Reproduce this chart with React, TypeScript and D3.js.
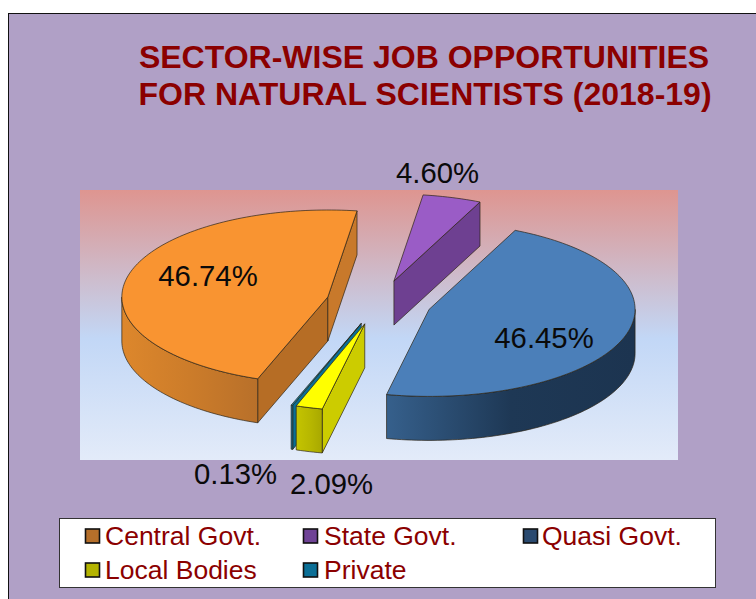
import React from "react";
import * as d3 from "d3";

const categories = ["Central Govt.", "State Govt.", "Quasi Govt.", "Local Bodies", "Private"];
const shares = [46.74, 4.6, 46.45, 2.09, 0.13];
const shareLabels = ["46.74%", "4.60%", "46.45%", "2.09%", "0.13%"];
const topColors = ["#f99431", "#9a5cc6", "#4b7fb9", "#ffff00", "#0e84ad"];
const sideColors = ["#b66d25", "#6e4091", "#1c3450", "#cccc00", "#0a6f96"];
const endColors = ["#c8792b", "#6e4091", "#1c3450", "#cccc00", "#0a6f96"];
const legendColors = ["#b56f2a", "#6f4396", "#2a4a70", "#b4b400", "#0b6f96"];
// left to right colours of the front wall
const wallStops = [
  ["#dd872c", "#cc7c2a", "#b8702a"],
  ["#6e4091", "#6e4091", "#6e4091"],
  ["#36608c", "#1e3855", "#1c3450"],
  ["#c4c400", "#b8b800", "#a8a800"],
  ["#0a6f96", "#0a6f96", "#0a6f96"],
];

// pie geometry in screen pixels
const cx = 379;
const cy = 302.4;
const rx = 206;
const ry = 87;
const depth = 44;
const explode = 0.256;
const firstAngle = (199.9 * Math.PI) / 180;

const labelPos = [
  [208, 275],
  [437.5, 172],
  [544, 337],
  [331.5, 483],
  [235.5, 473],
];
const legendPos = [
  [85.5, 536],
  [303.5, 536],
  [523.5, 536],
  [85.5, 570],
  [303.5, 570],
];
const legendText = [105, 324, 542, 105, 324];

const pie = d3
  .pie<number>()
  .sort(null)
  .startAngle(firstAngle)
  .endAngle(firstAngle + Math.PI * 2);

const xOf = (a: number) => Math.sin(a) * rx;
const yOf = (a: number) => -Math.cos(a) * ry;

type Pt = [number, number];
const line = d3.line<Pt>();

// rim points between two angles, sampled along the ellipse
function rim(ox: number, oy: number, a0: number, a1: number): Pt[] {
  const n = Math.max(2, Math.ceil(Math.abs(a1 - a0) * 40));
  return d3.range(n + 1).map((i) => {
    const a = a0 + ((a1 - a0) * i) / n;
    return [ox + xOf(a), oy + yOf(a)] as Pt;
  });
}

const drawOrder = [1, 2, 0, 4, 3];

export default function App() {
  const arcs = pie(shares);
  const stroke = "#2c2416";

  return (
    <svg
      width={756}
      height={599}
      style={{ position: "absolute", left: 0, top: 0, background: "#fff" }}
    >
      <defs>
        <linearGradient id="plotBg" x1="0" y1="0" x2="0" y2="1">
          <stop offset="0" stopColor="#de9590" />
          <stop offset="0.55" stopColor="#c2d7f6" />
          <stop offset="1" stopColor="#e3ebf9" />
        </linearGradient>
        {wallStops.map((stops, i) => (
          <linearGradient key={i} id={"wall" + i} x1="0" y1="0" x2="1" y2="0">
            <stop offset="0" stopColor={stops[0]} />
            <stop offset="0.5" stopColor={stops[1]} />
            <stop offset="1" stopColor={stops[2]} />
          </linearGradient>
        ))}
      </defs>

      <rect x={8.5} y={13.5} width={760} height={600} fill="#b0a0c6" stroke="#111" />
      <rect x={80} y={190} width={598} height={270} fill="url(#plotBg)" />

      <g fill="#8b0000" fontFamily="Liberation Sans" fontWeight="bold" fontSize={32} textAnchor="middle">
        <text x={424} y={68}>SECTOR-WISE JOB OPPORTUNITIES</text>
        <text x={425} y={105}>FOR NATURAL SCIENTISTS (2018-19)</text>
      </g>

      {drawOrder.map((i) => {
        const d = arcs[i];
        const mid = (d.startAngle + d.endAngle) / 2;
        const ox = cx + xOf(mid) * explode;
        const oy = cy + yOf(mid) * explode;
        const s: Pt = [ox + xOf(d.startAngle), oy + yOf(d.startAngle)];
        const e: Pt = [ox + xOf(d.endAngle), oy + yOf(d.endAngle)];
        const apex: Pt = [ox, oy];
        const inner: Pt = [xOf(mid), yOf(mid)];
        const down = (p: Pt): Pt => [p[0], p[1] + depth];

        // a cut face shows only if going down leaves the slice's top face
        const faces = (p: Pt) => {
          const ex = p[0] - apex[0];
          const ey = p[1] - apex[1];
          return ex * inner[1] - ey * inner[0] < 0 === ex > 0;
        };

        // only the front half of the rim shows a wall; the pie starts past 180deg
        // so slices after the first full turn need the window shifted by 360deg
        const turn = d.startAngle >= Math.PI * 2 ? Math.PI * 2 : 0;
        const lo = Math.max(d.startAngle, Math.PI / 2 + turn);
        const hi = Math.min(d.endAngle, (Math.PI * 3) / 2 + turn);
        const front = hi > lo ? rim(ox, oy, lo, hi) : [];
        const frontWall = [...front, ...front.map(down).reverse()];

        const top = [apex, ...rim(ox, oy, d.startAngle, d.endAngle)];

        return (
          <g key={i} stroke={stroke} strokeWidth={0.7} strokeLinejoin="round">
            {faces(s) && (
              <path d={line([apex, s, down(s), down(apex)]) + "Z"} fill={sideColors[i]} />
            )}
            {faces(e) && (
              <path d={line([apex, e, down(e), down(apex)]) + "Z"} fill={endColors[i]} />
            )}
            {front.length > 0 && (
              <path d={line(frontWall) + "Z"} fill={"url(#wall" + i + ")"} />
            )}
            <path d={line(top) + "Z"} fill={topColors[i]} />
          </g>
        );
      })}

      <g fontFamily="Liberation Sans" fontSize={29.3} fill="#0a0a0a" textAnchor="middle" dominantBaseline="central">
        {shareLabels.map((t, i) => (
          <text key={t} x={labelPos[i][0]} y={labelPos[i][1]}>{t}</text>
        ))}
      </g>

      <rect x={59.5} y={518.5} width={656} height={69} fill="#fff" stroke="#333" />
      {categories.map((c, i) => (
        <g key={c}>
          <rect
            x={legendPos[i][0]}
            y={legendPos[i][1] - 7}
            width={14}
            height={14}
            fill={legendColors[i]}
            stroke="#111"
            strokeWidth={1.6}
          />
          <text
            x={legendText[i]}
            y={legendPos[i][1]}
            dominantBaseline="central"
            fontFamily="Liberation Sans"
            fontSize={26.5}
            fill="#8b0000"
          >
            {c}
          </text>
        </g>
      ))}
    </svg>
  );
}
